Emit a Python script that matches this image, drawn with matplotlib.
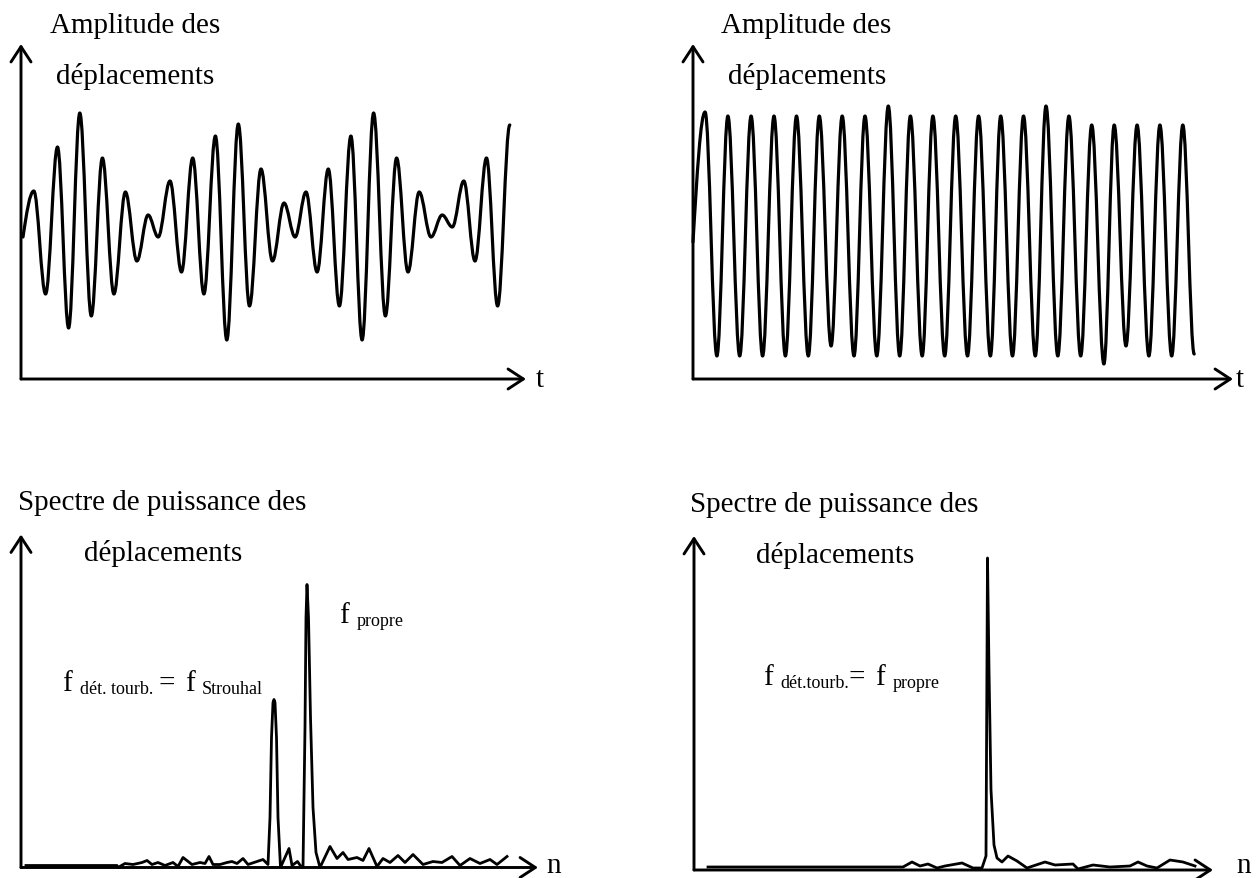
import matplotlib
matplotlib.use("Agg")
import matplotlib.pyplot as plt
from matplotlib.path import Path
from matplotlib.patches import PathPatch

W, H = 1258, 879

# --- data (arbitrary units) ---
# top-left : beating response, turning points (time, amplitude)
tl_t = [2, 12.8, 24.6, 36.5, 47.6, 58.8, 70.3, 81.4, 92.9, 104.4, 115.9, 127.1,
        137.2, 149, 160.5, 171.7, 182.9, 194.4, 205.8, 217.3, 228.5, 240, 251.5,
        263, 274.1, 285, 296.1, 307.3, 318.4, 329.9, 341.1, 352.6, 364.4, 375.6,
        387, 398.2, 410, 421.2, 431.3, 442.8, 454, 465.5, 476.6, 488.8]
tl_a = [0, 46, -57, 90, -91, 124, -79, 79, -57, 45, -24, 22,
        0, 56, -35, 79, -57, 101, -103, 113, -69, 68, -24,
        34, 0, 45, -35, 68, -69, 101, -103, 124, -79, 79,
        -35, 45, 0, 22, 10, 56, -24, 79, -69, 112]

# top-right : lock-in response, turning points (time, amplitude)
tr_t = [0, 12.1, 23.9, 34.9, 46.7, 58.1, 69.6, 81.0, 92.4, 103.5, 115.3, 126.3,
        138.1, 149.2, 161.0, 172.0, 183.8, 195.3, 206.7, 217.4, 229.2, 239.9,
        251.7, 262.7, 274.5, 285.6, 297.4, 307.7, 319.5, 330.5, 342.3, 353.0,
        364.8, 375.9, 387.7, 398.7, 410.9, 421.2, 433.0, 444.1, 455.9, 466.9,
        478.7, 489.8, 501.2]
tr_a = [-3, 127, -117, 123, -117, 123, -117, 123, -117, 123, -117, 123,
        -107, 123, -117, 123, -117, 133, -117, 123, -117, 123,
        -117, 123, -117, 123, -117, 123, -117, 123, -117, 133,
        -117, 123, -117, 114, -125, 114, -107, 114, -117, 114,
        -117, 114, -115]

# bottom-left : power spectrum (frequency, power)
bl_n = [5, 96, 97, 104, 112, 121, 126, 131, 137, 144, 152, 157, 162, 171, 179,
        184, 188, 192, 199, 206, 211, 216, 222, 227, 236, 242, 247, 249, 250.5,
        252, 253, 254, 255.5, 257, 259.5, 268, 271, 276.5, 280, 282, 284, 285,
        286, 287.5, 289.5, 292, 295, 299, 309, 316, 322, 327, 336, 342, 348, 356,
        362, 369, 377, 384, 392, 402, 412, 421, 431, 439, 449, 459, 469, 476, 486]
bl_p = [2, 2, 0, 4, 3, 5, 7, 3, 5, 2, 5, 1, 10, 3, 5,
        4, 11, 3, 3, 5, 6, 4, 9, 3, 6, 8, 3, 50, 130,
        165, 168, 165, 130, 50, 0, 19, 2, 6, 1, 0, 140, 250,
        283, 250, 150, 60, 15, 0, 21, 9, 15, 8, 10, 7, 19, 1,
        9, 5, 12, 5, 13, 3, 6, 5, 11, 2, 9, 4, 8, 3, 11]

# bottom-right : power spectrum (frequency, power)
br_n = [14, 209, 218, 226, 234, 243, 251, 268, 279, 288, 292, 293.5, 295, 297,
        300, 303, 308, 314, 323, 333, 351, 361, 379, 384, 399, 416, 436, 444,
        453, 463, 476, 489, 501]
br_p = [3, 3, 8, 4, 6, 2, 4, 7, 2, 2, 14, 312, 200, 80,
        25, 12, 8, 14, 9, 2, 8, 5, 6, 1, 5, 3, 4, 8,
        4, 2, 10, 8, 4]

plt.rcParams["font.family"] = ["Liberation Serif", "DejaVu Serif"]
fig = plt.figure(figsize=(W / 100, H / 100), dpi=100)


def panel(x0, y0, x1, y1, ox, oy):
    # axes on a pixel box, one data unit = one pixel, origin at pixel (ox, oy)
    ax = fig.add_axes([x0 / W, 1 - y1 / H, (x1 - x0) / W, (y1 - y0) / H])
    ax.set_xlim(x0 - ox, x1 - ox)
    ax.set_ylim(oy - y1, oy - y0)
    ax.axis("off")
    return ax


def arrow(ax, start, end):
    ax.annotate("", xy=end, xytext=start, annotation_clip=False,
                arrowprops=dict(arrowstyle="->,head_length=0.55,head_width=0.36",
                                lw=2.1, color="black", mutation_scale=20,
                                shrinkA=0, shrinkB=0))


def wave(ax, t, a, lw=2.3):
    # smooth curve through turning points, sine-like arcs between them
    verts = [(t[0], a[0])]
    codes = [Path.MOVETO]
    n = len(t)
    for i in range(n - 1):
        x0, y0, x1, y1 = t[i], a[i], t[i + 1], a[i + 1]
        L = x1 - x0
        dy = y1 - y0
        if i == 0:
            c = [(x0 + 0.326 * L, y0 + 0.512 * dy), (x0 + 0.638 * L, y1)]
            verts += c + [(x1, y1)]
            codes += [Path.CURVE4] * 3
            continue
        if i == n - 2 and abs(y1) < 0.95 * max(abs(v) for v in a):
            pass
        xm, ym = (x0 + x1) / 2, (y0 + y1) / 2
        h = L / 2
        verts += [(x0 + 0.362 * h, y0), (xm - 0.326 * h, ym - 0.512 * (ym - y0)), (xm, ym),
                  (xm + 0.326 * h, ym + 0.512 * (y1 - ym)), (x1 - 0.362 * h, y1), (x1, y1)]
        codes += [Path.CURVE4] * 6
    ax.add_patch(PathPatch(Path(verts, codes), fill=False, lw=lw, color="black",
                           capstyle="round", joinstyle="round", clip_on=False))


def txt(x, y, s, size=21):
    fig.text(x / W, 1 - y / H, s, fontsize=size, ha="left", va="baseline")


# top-left
ax1 = panel(0, 20, 629, 400, 21, 238)
arrow(ax1, (0, -142), (505, -142))
arrow(ax1, (0, -142), (0, 193))
wave(ax1, tl_t, tl_a)
txt(50, 33, "Amplitude des")
txt(56, 84, "déplacements")
fig.text(536 / W, 1 - 380 / H, "t", fontsize=21, ha="left", va="center")

# top-right
ax2 = panel(629, 20, 1258, 400, 693, 240)
arrow(ax2, (0, -140), (540, -140))
arrow(ax2, (0, -140), (0, 195))
wave(ax2, tr_t, tr_a)
txt(721, 33, "Amplitude des")
txt(728, 84, "déplacements")
fig.text(1236 / W, 1 - 380 / H, "t", fontsize=21, ha="left", va="center")

# bottom-left
ax3 = panel(0, 450, 629, 879, 21, 868.5)
arrow(ax3, (0, 0), (517, 0))
arrow(ax3, (0, 0), (0, 333))
ax3.plot(bl_n, bl_p, color="black", lw=2.0, solid_joinstyle="round", clip_on=False)
txt(18, 510, "Spectre de puissance des")
txt(84, 561, "déplacements")
fig.text(546 / W, 1 - 866 / H, "n", fontsize=21, ha="left", va="center")
txt(62, 691, "f")
txt(80, 694, "dét. tourb.", 13)
txt(159, 691, "=")
txt(185, 691, "f")
txt(202, 694, "Strouhal", 13)
txt(339, 623, "f")
txt(357, 626, "propre", 13)

# bottom-right
ax4 = panel(629, 450, 1258, 879, 694, 871)
arrow(ax4, (0, 0), (519, 0))
arrow(ax4, (0, 0), (0, 334))
ax4.plot(br_n, br_p, color="black", lw=2.0, solid_joinstyle="round", clip_on=False)
txt(690, 512, "Spectre de puissance des")
txt(756, 563, "déplacements")
fig.text(1236 / W, 1 - 866 / H, "n", fontsize=21, ha="left", va="center")
txt(763, 685, "f")
txt(780, 688, "dét.tourb.", 13)
txt(848, 685, "=")
txt(875, 685, "f")
txt(893, 688, "propre", 13)

fig.savefig("out.png", dpi=100)
